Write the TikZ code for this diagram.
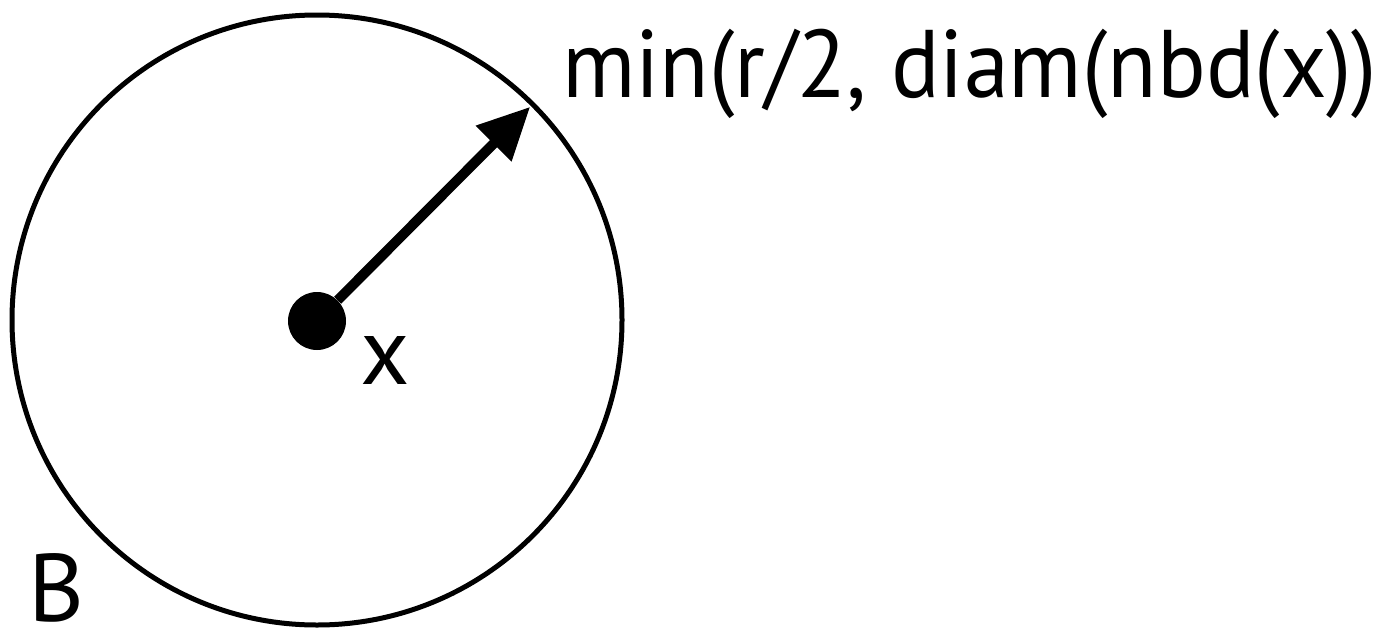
\documentclass[tikz,border=0pt]{standalone}
\usepackage{fontspec}
\setmainfont{PT Sans}
\usetikzlibrary{arrows.meta}
\begin{document}
\begin{tikzpicture}[x=1pt, y=-1pt,
    lbl/.style={inner sep=0pt, font=\fontsize{96}{96}\selectfont},
]
\useasboundingbox (0,0) rectangle (1389,629);
\node[draw, circle, line width=5pt, minimum size=610pt, inner sep=0pt] (ball) at (317,320) {};
\node[fill, circle, minimum size=58pt, inner sep=0pt] (ctr) at (317,321) {};
\draw[line width=10pt, -{Triangle[length=52pt, width=48pt]}, shorten >=6pt] (ctr) -- (ball.45);
\node[lbl, anchor=base] (xlbl) at (385,384) {x};
\node[lbl, anchor=base west] (blbl) at (28,621) {B};
\node[lbl, anchor=base west] (rad) at (562,97) {\resizebox{815pt}{\height}{min(r/2, diam(nbd(x))}};
\end{tikzpicture}
\end{document}
